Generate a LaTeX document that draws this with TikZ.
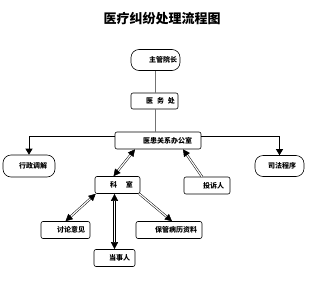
\documentclass[tikz,border=0pt]{standalone}
\usepackage{fontspec}
\newfontfamily\cjk{Noto Sans CJK SC}
\usetikzlibrary{arrows.meta}
\newcommand\boxtxt[3]{\makebox[#1pt][r]{#3\hspace{#2pt}}}
\begin{document}
\begin{tikzpicture}[x=1pt,y=-1pt,
  box/.style={draw, rounded corners=2pt, inner sep=0pt, fill=white,
    font=\cjk\bfseries\fontsize{7}{8}\selectfont, line width=0.6pt},
  term/.style={box, rounded corners=8pt},
  vline/.style={draw=black!55, line width=1.3pt},
  hline/.style={draw=black, line width=0.8pt, -{Triangle[length=6pt,width=7pt]}},
  dbl/.style={draw=black, line width=0.5pt, double=white, double distance=1.2pt},
  tipa/.style={-{Triangle[length=7pt,width=7pt]}},
  tipb/.style={{Triangle[length=7pt,width=7pt]}-{Triangle[length=7pt,width=7pt]}}]
\useasboundingbox (0,0) rectangle (312,292);
\node[font=\cjk\bfseries\fontsize{13}{15}\selectfont] (title) at (162,19) {医疗纠纷处理流程图};
\node[term, minimum height=21pt] (zg) at (155.5,60) {\boxtxt{49}{3}{主管院长}};
\node[box, minimum height=16pt] (yw) at (154.5,101) {\boxtxt{47}{3}{医\hspace{4pt}务\hspace{4pt}处}};
\node[box, minimum height=17pt] (yh) at (158,140.5) {\boxtxt{86}{9}{医患关系办公室}};
\node[term, minimum height=22pt] (xz) at (29,166) {\boxtxt{52}{8}{行政调解}};
\node[term, minimum height=21pt] (sf) at (279.5,166) {\boxtxt{49}{8}{司法程序}};
\node[box, minimum height=17pt] (ks) at (117.5,185) {\boxtxt{45}{7}{科\hspace{9pt}室}};
\node[box, minimum height=17pt] (ts) at (207,185.5) {\boxtxt{46}{6}{投诉人}};
\node[box, minimum height=17pt] (tl) at (65.5,230) {\boxtxt{49}{5}{讨论意见}};
\node[box, minimum height=17pt] (bg) at (169,230) {\boxtxt{66}{5}{保管病历资料}};
\node[box, minimum height=17pt] (ds) at (114.5,258) {\boxtxt{41}{5}{当事人}};
\draw[vline] (zg.south) -- (zg.south |- yw.north);
\draw[vline] (zg.south |- yw.south) -- (zg.south |- yh.north);
\draw[hline] ([yshift=4pt]yh.west) -| (xz.north);
\draw[hline] ([yshift=4pt]yh.east) -| (sf.north);
\draw[dbl, tipb] ([xshift=-23pt]yh.south) -- ([xshift=-4pt]ks.north);
\draw[dbl, tipa] ([xshift=-5pt]ts.north) -- ([xshift=25pt]yh.south);
\draw[dbl, tipb] ([xshift=1pt]ks.south west) -- (tl.north);
\draw[dbl, tipb] (ks.south -| ds.north) -- (ds.north);
\draw[dbl, tipa] ([xshift=-1pt]ks.south east) -- ([xshift=3pt]bg.north);
\end{tikzpicture}
\end{document}
